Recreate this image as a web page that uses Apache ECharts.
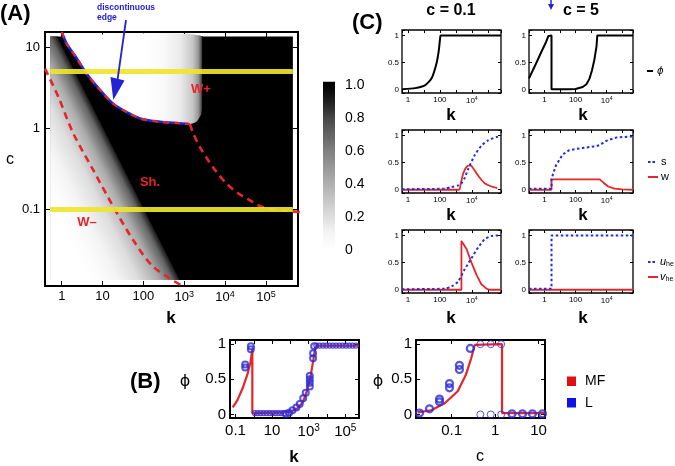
<!DOCTYPE html>
<html>
<head>
<meta charset="utf-8">
<title>Chart</title>
<script src="https://cdn.jsdelivr.net/npm/echarts@6.0.0/dist/echarts.min.js"></script>
<style>
html,body{margin:0;padding:0;background:#ffffff;}
#chart{width:675px;height:466px;}
</style>
</head>
<body>
<div id="chart"></div>
<script>
// ================= DATA =================
// ---- Panel (A): map of phi over (k, c) ----
const heatK = [0.518, 457000];
const heatC = [0.0135, 13.5];
const wedgeK = [0.518, 0.518, 0.794, 794];
const wedgeC = [0.0135, 13.5, 13.5, 0.0135];
const wedgeKC = [0.006, 0.06, 0.12, 0.3, 1.0, 3.2, 7.0, 10.0, 10.7];
const wedgeVal = [0, 0, 0.03, 0.1, 0.2, 0.42, 0.7, 0.9, 1.0];
const upperK = [1.11, 1.32, 2.34, 4.07, 8.7, 18.2, 38.9, 81, 251, 776, 1380, 2000, 2630, 2820, 2820];
const upperC = [13.5, 11.0, 7.24, 4.68, 2.95, 2.0, 1.58, 1.32, 1.2, 1.15, 1.12, 1.2, 1.51, 2.19, 13.5];
const upperGradK = [100, 300, 800, 1600, 2200, 2600, 2820];
const upperGradVal = [0, 0.05, 0.15, 0.3, 0.5, 0.75, 1.0];
const edgeK = [1, 1.32, 2.34, 4.07, 8.7, 18.2, 38.9, 81, 251, 776, 1380];
const edgeC = [15.3, 11.0, 7.24, 4.68, 2.95, 2.0, 1.58, 1.32, 1.2, 1.15, 1.12];
const wMinusK = [0.389, 0.826, 1.92, 5.93, 18.3, 56.2, 174, 891];
const wMinusC = [5.42, 2.43, 0.861, 0.304, 0.108, 0.0419, 0.0197, 0.0114];
const wPlusK = [1380, 1660, 2399, 3846, 6166, 10715, 20893, 39811, 70795, 147911, 316228, 676083];
const wPlusC = [1.12, 0.861, 0.589, 0.404, 0.29, 0.209, 0.158, 0.13, 0.11, 0.1, 0.0962, 0.0927];
const cutC = [5, 0.1];
const colorbarTicks = [0, 0.2, 0.4, 0.6, 0.8, 1.0];
const colorbarSpan = [0, 1.02];

// ---- Panel (C): cuts at c = 0.1 (left) and c = 5 (right) ----
const c11K = [0.422, 2.82, 11.5, 30.2, 61.7, 85.1, 105, 112, 676083];
const c11Phi = [0.01, 0.03, 0.08, 0.21, 0.49, 0.72, 0.97, 1, 1];
const c12K = [0.1, 0.251, 0.631, 1.26, 1.78, 1.86, 2.82, 2.82, 31.6, 100, 288, 501, 776, 1122, 1622, 2239, 2512, 501187];
const c12Phi = [0.21, 0.45, 0.7, 0.88, 0.99, 1, 1, 0.01, 0.01, 0.015, 0.05, 0.1, 0.2, 0.35, 0.55, 0.8, 1, 1];
const c21K = [0.422, 200, 537, 1380, 2239, 3631, 5888, 15488, 39811, 104713, 354813, 676083];
const c21S = [0.01, 0.02, 0.05, 0.08, 0.12, 0.22, 0.38, 0.64, 0.81, 0.91, 0.97, 0.98];
const c21wK = [0.422, 1585, 1995, 2884, 4677, 7413, 10000, 15488, 31623, 64565, 169824, 398107];
const c21W = [0, 0, 0.1, 0.3, 0.42, 0.45, 0.43, 0.35, 0.22, 0.12, 0.06, 0.03];
const c22K = [0.1, 2.82, 2.82, 5.5, 14.8, 39.8, 288, 2089, 3467, 9333, 40738, 295121, 501187];
const c22S = [0.02, 0.02, 0.2, 0.45, 0.65, 0.73, 0.77, 0.8, 0.82, 0.9, 0.96, 0.98, 0.98];
const c22wK = [0.1, 2.82, 2.82, 3548, 6310, 12589, 31623, 100000, 501187];
const c22W = [0, 0, 0.19, 0.19, 0.13, 0.06, 0.02, 0.005, 0];
const c31K = [0.422, 204, 537, 1380, 3631, 9550, 25119, 64565, 169824, 316228, 676083];
const c31U = [0.01, 0.02, 0.06, 0.15, 0.38, 0.58, 0.78, 0.93, 0.99, 1.0, 1.0];
const c31vK = [0.422, 2239, 2239, 4677, 9550, 19498, 39811, 83176, 125893, 676083];
const c31V = [0, 0, 0.9, 0.75, 0.5, 0.28, 0.1, 0.02, 0, 0];
const c32K = [0.1, 2.82, 2.82, 501187];
const c32U = [0.02, 0.02, 1, 1];
const c32vK = [0.1, 501187];
const c32V = [0, 0];

// ---- Panel (B): mean field (MF) vs lattice (L) ----
const b1mfK = [0.0708, 0.126, 0.251, 0.447, 0.661, 0.832, 0.832, 63.1, 126, 251, 468, 871, 1318, 1778, 2291, 2630, 562341];
const b1mfPhi = [0.1, 0.2, 0.38, 0.57, 0.74, 0.93, 0.02, 0.03, 0.05, 0.09, 0.17, 0.36, 0.57, 0.77, 0.95, 0.98, 0.98];
const b1LthinK = [1.12, 1.62, 2.34, 3.39, 4.9, 7.08, 10.2, 14.8, 21.4, 30.9, 44.7,
  2630, 3981, 6026, 9120, 13804, 20893, 31623, 47863, 72444, 109648, 165959, 251189, 380189];
const b1LthinPhi = [0.02, 0.02, 0.02, 0.02, 0.02, 0.02, 0.02, 0.02, 0.02, 0.02, 0.02,
  0.98, 0.98, 0.98, 0.98, 0.98, 0.98, 0.98, 0.98, 0.98, 0.98, 0.98, 0.98, 0.98];
const b1LboldK = [0.339, 0.339, 0.692, 0.692, 56.2, 85.1, 129, 214, 324, 501, 692, 1148, 1148, 1148, 1148, 1738, 1738, 1995];
const b1LboldPhi = [0.67, 0.71, 0.93, 0.97, 0.01, 0.025, 0.06, 0.1, 0.15, 0.23, 0.31, 0.4, 0.45, 0.5, 0.55, 0.8, 0.87, 0.97];
const b2mfC = [0.0166, 0.0339, 0.0692, 0.138, 0.214, 0.282, 0.339, 0.355, 1.445, 1.445, 14.1];
const b2mfPhi = [0.03, 0.06, 0.16, 0.33, 0.57, 0.8, 0.99, 1.0, 1.0, 0.02, 0.02];
const b2LboldC = [0.0182, 0.0309, 0.0525, 0.0525, 0.0891, 0.0891, 0.151, 0.151, 0.269, 2.45, 4.27, 7.24, 12.3];
const b2LboldPhi = [0.02, 0.08, 0.18, 0.22, 0.38, 0.44, 0.64, 0.7, 0.94, 0.01, 0.01, 0.01, 0.01];
const b2LthinC = [0.457, 0.794, 1.38, 0.457, 0.794, 1.38];
const b2LthinPhi = [1, 1, 1, 0, 0, 0];

// ================= STYLE / BUILD =================
const FONT = 'Liberation Sans, Arial, Helvetica, sans-serif';
const BLUE = '#2323d6', RED = '#e4262b', YEL = '#eee52b', DOTBLUE = '#1e2ee0';
const CMAP_V = [0, 0.1, 0.3, 0.6, 0.8, 0.9, 1];
const CMAP_G = [255, 245, 199, 128, 71, 31, 0];
function gray(v) {
  v = Math.max(0, Math.min(1, v));
  let i = 1;
  while (i < CMAP_V.length - 1 && v > CMAP_V[i]) i++;
  const t = (v - CMAP_V[i - 1]) / (CMAP_V[i] - CMAP_V[i - 1]);
  const g = Math.round(CMAP_G[i - 1] + t * (CMAP_G[i] - CMAP_G[i - 1]));
  return 'rgb(' + g + ',' + g + ',' + g + ')';
}
function isPow(v) { const l = Math.log10(v); return Math.abs(l - Math.round(l)) < 1e-6; }
function powLabel(v, ok) {
  if (!isPow(v)) return '';
  const e = Math.round(Math.log10(v));
  if (!ok(e)) return '';
  if (e === -1) return '0.1';
  if (e === 0) return '1';
  if (e === 1) return '10';
  if (e === 2) return '100';
  return '{b|10}{s|' + e + '}';
}
function halfLabel(v) {
  if (Math.abs(v) < 1e-9) return '0';
  if (Math.abs(v - 0.5) < 1e-9) return '0.5';
  if (Math.abs(v - 1) < 1e-9) return '1';
  return '';
}
function sup(fs) {
  return {
    b: {fontSize: fs, fontFamily: FONT, color: '#000', lineHeight: fs + 2},
    s: {fontSize: Math.round(fs * 0.68), fontFamily: FONT, color: '#000', verticalAlign: 'top', lineHeight: Math.round(fs * 0.75)}
  };
}

const grids = [], xAxes = [], yAxes = [], series = [];
function panel(box, bw, tick, xa, ya) {
  const gi = grids.length;
  grids.push(Object.assign({show: bw > 0, borderColor: '#000', borderWidth: bw, backgroundColor: 'rgba(0,0,0,0)'}, box));
  const tickCfg = {show: tick > 0, inside: true, length: tick, lineStyle: {color: '#000', width: 1}};
  const common = {gridIndex: gi, splitLine: {show: false}, axisLine: {show: false, onZero: false},
    axisTick: tickCfg, minorTick: {show: false}, minorSplitLine: {show: false}};
  const xi = xAxes.length, yi = yAxes.length;
  xAxes.push(Object.assign({}, common, {type: xa.type, min: xa.min, max: xa.max, interval: xa.interval, splitNumber: xa.split, position: 'bottom', axisLabel: xa.label}));
  xAxes.push(Object.assign({}, common, {type: xa.type, min: xa.min, max: xa.max, interval: xa.interval, splitNumber: xa.split, position: 'top', axisLabel: {show: false}, axisTick: Object.assign({}, tickCfg, {show: tick > 0 && !xa.noMirror})}));
  yAxes.push(Object.assign({}, common, {type: ya.type, min: ya.min, max: ya.max, interval: ya.interval, splitNumber: ya.split, position: ya.pos || 'left', axisLabel: ya.label}));
  yAxes.push(Object.assign({}, common, {type: ya.type, min: ya.min, max: ya.max, interval: ya.interval, splitNumber: ya.split, position: ya.pos === 'right' ? 'left' : 'right', axisLabel: {show: false}, axisTick: Object.assign({}, tickCfg, {show: tick > 0 && !ya.noMirror})}));
  return {xi: xi, yi: yi};
}
function lbl(fs, margin, fmt) {
  return {show: true, fontSize: fs, fontFamily: FONT, color: '#000', margin: margin, formatter: fmt, rich: sup(fs)};
}
function zip(xs, ys) { return xs.map((x, i) => [x, ys[i]]); }
function line(ax, xs, ys, ls, extra) {
  return Object.assign({type: 'line', xAxisIndex: ax.xi, yAxisIndex: ax.yi, data: zip(xs, ys), symbol: 'none',
    silent: true, lineStyle: ls, z: 3, clip: true}, extra || {});
}
function dots(ax, xs, ys, size, bw, z) {
  return {type: 'scatter', xAxisIndex: ax.xi, yAxisIndex: ax.yi, data: zip(xs, ys), symbol: 'circle', symbolSize: size,
    silent: true, itemStyle: {color: 'rgba(0,0,0,0)', borderColor: '#2a2ad8', borderWidth: bw}, z: z || 4};
}

// ---- Panel A ----
const axA = panel({left: 45, top: 32, width: 253, height: 254}, 2, 5,
  {type: 'log', min: 0.389, max: 610000, split: 5, label: lbl(13, 4, v => powLabel(v, () => true))},
  {type: 'log', min: 0.0114, max: 15.3, split: 5, label: lbl(13, 5, v => powLabel(v, () => true))});

series.push({
  type: 'custom', xAxisIndex: axA.xi, yAxisIndex: axA.yi, data: [[1, 1]], silent: true, z: 1, clip: false,
  renderItem: function (params, api) {
    if (params.dataIndex !== 0) return;
    const P = (k, c) => api.coord([k, c]);
    const ch = [];
    const a = P(heatK[0], heatC[0]), b = P(heatK[1], heatC[1]);
    ch.push({type: 'rect', shape: {x: a[0], y: b[1], width: b[0] - a[0], height: a[1] - b[1]}, style: {fill: gray(1)}});
    // wedge: gradient perpendicular to lines of constant k*c
    const o = P(1, 1), ox = P(10, 1), oy = P(1, 10);
    const sx = ox[0] - o[0], sy = o[1] - oy[1];
    const n = wedgeKC.length;
    const u0 = Math.log10(wedgeKC[0]), u1 = Math.log10(wedgeKC[n - 1]);
    const p1 = P(wedgeKC[n - 1], 1);
    const gx = 1 / sx, gy = -1 / sy, gg = gx * gx + gy * gy;
    const t = (u0 - u1) / gg;
    const p0 = [p1[0] + t * gx, p1[1] + t * gy];
    const wStops = wedgeKC.map((kc, i) => ({offset: (Math.log10(kc) - u0) / (u1 - u0), color: gray(wedgeVal[i])}));
    ch.push({type: 'polygon', shape: {points: wedgeK.map((k, i) => P(k, wedgeC[i]))},
      style: {fill: new echarts.graphic.LinearGradient(p0[0], p0[1], p1[0], p1[1], wStops, true)}});
    // upper region: gradient along k
    const m = upperGradK.length;
    const l0 = Math.log10(upperGradK[0]), l1 = Math.log10(upperGradK[m - 1]);
    const q0 = P(upperGradK[0], 1), q1 = P(upperGradK[m - 1], 1);
    const uStops = upperGradK.map((k, i) => ({offset: (Math.log10(k) - l0) / (l1 - l0), color: gray(upperGradVal[i])}));
    ch.push({type: 'polygon', shape: {points: upperK.map((k, i) => P(k, upperC[i])), smooth: 0.15},
      style: {fill: new echarts.graphic.LinearGradient(q0[0], q0[1], q1[0], q1[1], uStops, true)}});
    return {type: 'group', children: ch};
  }
});
series.push(line(axA, edgeK, edgeC, {color: BLUE, width: 2.6}, {smooth: 0.3, z: 3}));
series.push(line(axA, edgeK, edgeC, {color: RED, width: 2.2, type: [6, 5]}, {smooth: 0.3, z: 4}));
series.push(line(axA, wMinusK, wMinusC, {color: RED, width: 2.6, type: [7, 5]}, {smooth: 0.3, z: 4}));
series.push(line(axA, wPlusK, wPlusC, {color: RED, width: 2.6, type: [7, 5]}, {smooth: 0.3, z: 4}));
cutC.forEach(cv => {
  series.push(line(axA, heatK, [cv, cv], {color: YEL, width: 5, opacity: 0.92}, {z: 5}));
});

// ---- Colour bar ----
const axCB = panel({left: 323, top: 85, width: 12, height: 165}, 0, 0,
  {type: 'value', min: 0, max: 1, label: {show: false}, noMirror: true},
  {type: 'value', min: 0, max: 1, interval: 0.2, pos: 'right', noMirror: true,
    label: {show: true, fontSize: 14, fontFamily: FONT, color: '#000', margin: 10,
      formatter: v => { const hit = colorbarTicks.find(t => Math.abs(t - v) < 1e-9); return hit === undefined ? '' : (hit === 0 ? '0' : hit.toFixed(1)); }}});
series.push({
  type: 'custom', xAxisIndex: axCB.xi, yAxisIndex: axCB.yi, data: [[0, 0]], silent: true, z: 1, clip: false,
  renderItem: function (params, api) {
    const pb = api.coord([0, colorbarSpan[0]]), pt = api.coord([1, colorbarSpan[1]]);
    const y0 = api.coord([0, 0])[1], y1 = api.coord([0, 1])[1];
    const stops = CMAP_V.map(v => ({offset: v, color: gray(v)}));
    return {type: 'rect', shape: {x: pb[0], y: pt[1], width: pt[0] - pb[0], height: pb[1] - pt[1]},
      style: {fill: new echarts.graphic.LinearGradient(0, y0, 0, y1, stops, true)}};
  }
});

// ---- Panel C ----
const cxL = {type: 'log', min: 0.422, max: 676083, split: 5, label: lbl(8, 3, v => powLabel(v, e => e % 2 === 0))};
const cxR = {type: 'log', min: 0.1, max: 501187, split: 5, label: lbl(8, 3, v => powLabel(v, e => e % 2 === 0))};
const cy = {type: 'value', min: -0.06, max: 1.1, split: 2, label: {show: true, fontSize: 8, fontFamily: FONT, color: '#000', margin: 3, formatter: halfLabel}};
const rowsTop = [30, 130, 230];
const C = rowsTop.map(top => [
  panel({left: 402, top: top, width: 99, height: 63}, 1.3, 3, cxL, cy),
  panel({left: 529, top: top, width: 104, height: 63}, 1.3, 3, cxR, cy)
]);
const solidBlack = {color: '#000', width: 2};
const dotted = {color: DOTBLUE, width: 2, type: [2.5, 2.5]};
const redSolid = {color: RED, width: 1.8};
series.push(line(C[0][0], c11K, c11Phi, solidBlack, {smooth: 0.2}));
series.push(line(C[0][1], c12K, c12Phi, solidBlack));
series.push(line(C[1][0], c21wK, c21W, redSolid, {smooth: 0.2}));
series.push(line(C[1][0], c21K, c21S, dotted, {smooth: 0.2, z: 4}));
series.push(line(C[1][1], c22wK, c22W, redSolid));
series.push(line(C[1][1], c22K, c22S, dotted, {z: 4}));
series.push(line(C[2][0], c31vK, c31V, redSolid));
series.push(line(C[2][0], c31K, c31U, dotted, {smooth: 0.2, z: 4}));
series.push(line(C[2][1], c32vK, c32V, redSolid));
series.push(line(C[2][1], c32K, c32U, dotted, {z: 4}));

// ---- Panel B ----
const by = {type: 'value', min: -0.05, max: 1.06, split: 2, label: {show: true, fontSize: 15, fontFamily: FONT, color: '#000', margin: 4, formatter: halfLabel}};
const axB1 = panel({left: 230, top: 340, width: 129, height: 78}, 2, 4,
  {type: 'log', min: 0.0501, max: 562341, split: 5, label: lbl(15, 5, v => powLabel(v, e => Math.abs(e % 2) === 1))}, by);
const axB2 = panel({left: 416, top: 340, width: 129, height: 78}, 2, 4,
  {type: 'log', min: 0.0151, max: 14.1, split: 5, label: lbl(15, 5, v => powLabel(v, () => true))}, by);
series.push(line(axB1, b1mfK, b1mfPhi, {color: RED, width: 2.2}, {z: 3}));
series.push(dots(axB1, b1LthinK, b1LthinPhi, 5, 1.2));
series.push(dots(axB1, b1LboldK, b1LboldPhi, 6, 2));
series.push(line(axB2, b2mfC, b2mfPhi, {color: RED, width: 2.2}, {z: 3}));
series.push(dots(axB2, b2LthinC, b2LthinPhi, 7, 1));
series.push(dots(axB2, b2LboldC, b2LboldPhi, 7, 2.2));

// ---- Text & annotations ----
function T(text, x, y, fs, fw, fill, align, extra) {
  return {type: 'text', x: x, y: y, z: 100, silent: true,
    style: Object.assign({text: text, fontSize: fs, fontWeight: fw, fontFamily: FONT, fill: fill || '#000',
      align: align || 'center', verticalAlign: 'middle'}, extra || {})};
}
const PHI = '\u03d5';
const graphic = [
  T('(A)', 0, 14, 22, 'bold', '#000', 'left'),
  T('discontinuous', 97, 8, 8.5, 'bold', BLUE, 'left'),
  T('edge', 97, 18, 8.5, 'bold', BLUE, 'left'),
  {type: 'line', z: 100, silent: true, shape: {x1: 126, y1: 20, x2: 117.5, y2: 80}, style: {stroke: BLUE, lineWidth: 1.8}},
  {type: 'polygon', z: 100, silent: true, shape: {points: [[110.5, 77], [113.3, 100], [124.5, 80.5]]}, style: {fill: BLUE}},
  T('W+', 201, 89, 13, 'bold', RED),
  T('Sh.', 150, 182, 13, 'bold', RED),
  T('W\u2013', 87, 222, 13, 'bold', RED),
  T('c', 10, 160, 16, 'normal'),
  T('k', 171, 318, 17, 'bold'),
  T('(C)', 352, 23, 22, 'bold', '#000', 'left'),
  T('c = 0.1', 451, 11, 16, 'bold'),
  T('c = 5', 581, 11, 16, 'bold'),
  T('k', 451, 115, 17, 'bold'), T('k', 583, 115, 17, 'bold'),
  T('k', 451, 215, 17, 'bold'), T('k', 583, 215, 17, 'bold'),
  T('k', 451, 318, 17, 'bold'), T('k', 583, 318, 17, 'bold'),
  {type: 'line', z: 100, silent: true, shape: {x1: 551, y1: 0, x2: 551, y2: 5}, style: {stroke: BLUE, lineWidth: 1.5}},
  {type: 'polygon', z: 100, silent: true, shape: {points: [[548, 4], [554, 4], [551, 10]]}, style: {fill: BLUE}},
  // legends of panel C
  {type: 'line', z: 100, silent: true, shape: {x1: 647, y1: 71, x2: 653, y2: 71}, style: {stroke: '#000', lineWidth: 2}},
  T(PHI, 657, 71, 10, 'normal', '#000', 'left', {fontStyle: 'italic', fontFamily: 'DejaVu Sans, ' + FONT}),
  {type: 'line', z: 100, silent: true, shape: {x1: 648, y1: 162, x2: 657, y2: 162}, style: {stroke: DOTBLUE, lineWidth: 2, lineDash: [2.5, 2]}},
  T('s', 661, 162, 11, 'normal', '#000', 'left'),
  {type: 'line', z: 100, silent: true, shape: {x1: 648, y1: 177, x2: 658, y2: 177}, style: {stroke: RED, lineWidth: 2}},
  T('w', 661, 177, 11, 'normal', '#000', 'left'),
  {type: 'line', z: 100, silent: true, shape: {x1: 648, y1: 262, x2: 657, y2: 262}, style: {stroke: DOTBLUE, lineWidth: 2, lineDash: [2.5, 2]}},
  T('{a|u}{b|he}', 660, 262, 11, 'normal', '#000', 'left', {rich: {a: {fontSize: 11, fontStyle: 'italic', fontFamily: FONT, lineHeight: 12}, b: {fontSize: 7, fontFamily: FONT, verticalAlign: 'bottom', lineHeight: 8}}}),
  {type: 'line', z: 100, silent: true, shape: {x1: 648, y1: 277, x2: 658, y2: 277}, style: {stroke: RED, lineWidth: 2}},
  T('{a|v}{b|he}', 660, 277, 11, 'normal', '#000', 'left', {rich: {a: {fontSize: 11, fontStyle: 'italic', fontFamily: FONT, lineHeight: 12}, b: {fontSize: 7, fontFamily: FONT, verticalAlign: 'bottom', lineHeight: 8}}}),
  // panel B
  T('(B)', 130, 382, 22, 'bold', '#000', 'left'),
  T(PHI, 185, 382, 16, 'normal', '#000', 'center', {fontFamily: 'DejaVu Sans, ' + FONT}),
  T(PHI, 378, 382, 16, 'normal', '#000', 'center', {fontFamily: 'DejaVu Sans, ' + FONT}),
  T('k', 294, 457, 17, 'bold'),
  T('c', 480, 457, 16, 'normal'),
  {type: 'rect', z: 100, silent: true, shape: {x: 567, y: 376.5, width: 9, height: 9.5}, style: {fill: '#e01010'}},
  {type: 'rect', z: 100, silent: true, shape: {x: 567, y: 398, width: 9, height: 9.5}, style: {fill: '#1010e8'}},
  T('MF', 585, 381, 14, 'normal', '#000', 'left'),
  T('L', 585, 403, 14, 'normal', '#000', 'left')
];

const chart = echarts.init(document.getElementById('chart'), null, {renderer: 'canvas', width: 675, height: 466});
chart.setOption({
  animation: false,
  backgroundColor: '#ffffff',
  textStyle: {fontFamily: FONT},
  grid: grids,
  xAxis: xAxes,
  yAxis: yAxes,
  series: series,
  graphic: graphic
});
</script>
</body>
</html>
